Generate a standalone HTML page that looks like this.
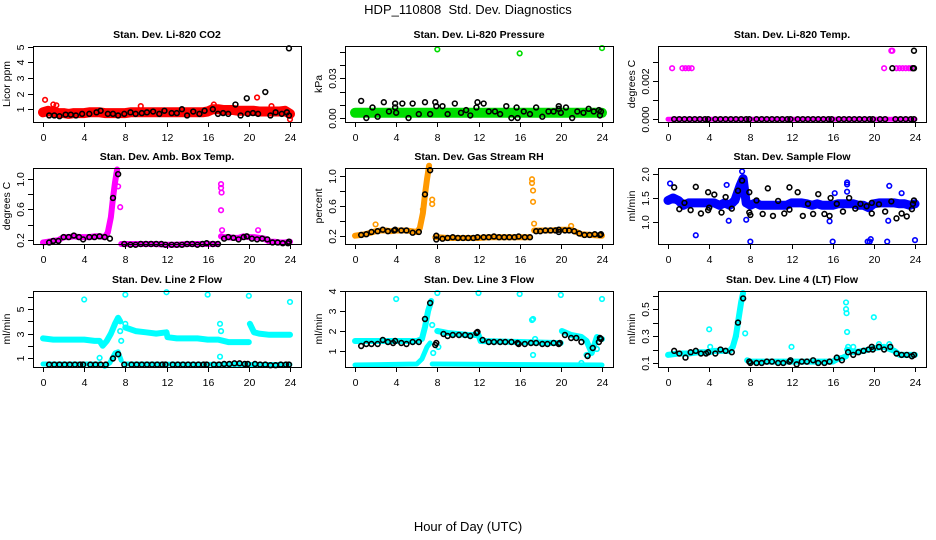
<!DOCTYPE html>
<html><head><meta charset="utf-8">
<style>
html,body{margin:0;padding:0;background:#fff;}
svg{display:block;font-family:"Liberation Sans",Arial,sans-serif;}
</style></head>
<body>
<svg id="chart" width="936" height="540" viewBox="0 0 936 540" xmlns="http://www.w3.org/2000/svg">
<rect x="0" y="0" width="936" height="540" fill="#fff"/>
<text x="468" y="14" font-size="13" text-anchor="middle">HDP_110808&#160; Std. Dev. Diagnostics</text>
<text x="468" y="531" font-size="13" text-anchor="middle">Hour of Day (UTC)</text>
</svg>
<script>
// ---------- Data ----------
var xTicks = [0,4,8,12,16,20,24];

// Panel 1: Li-820 CO2
var co2Dense = [[0,0.8],[0.5,0.9],[1,0.8],[1.5,0.75],[2,0.75],[2.5,0.7],[3,0.75],[3.5,0.75],[4,0.75],[4.5,0.8],[5,0.8],[5.5,0.8],[6,0.75],[6.5,0.75],[7,0.75],[7.5,0.75],[8,0.75],[8.5,0.8],[9,0.8],[9.5,0.8],[10,0.8],[10.5,0.8],[11,0.8],[11.5,0.8],[12,0.8],[12.5,0.8],[13,0.8],[13.5,0.8],[14,0.8],[14.5,0.8],[15,0.8],[15.5,0.8],[16,0.85],[16.5,1.0],[17,1.0],[17.5,0.95],[18,0.95],[18.5,0.95],[19,0.9],[19.5,0.9],[20,0.9],[20.5,0.9],[21,0.85],[21.5,0.85],[22,0.85],[22.5,0.85],[23,0.85],[23.5,0.9],[24,0.7]];
var co2Extra = [[0.2,1.6],[1.0,1.3],[1.3,1.25],[9.5,1.2],[16.6,1.3],[20.8,1.75],[22.2,1.2],[24,0.35]];
var co2Black = [[0.6,0.6],[1.1,0.6],[1.6,0.55],[2.2,0.65],[2.7,0.65],[3.2,0.6],[3.8,0.7],[4.5,0.7],[5.2,0.8],[5.6,0.9],[6.3,0.7],[6.8,0.7],[7.3,0.6],[7.9,0.7],[8.5,0.8],[9.0,0.7],[9.6,0.75],[10.1,0.8],[10.7,0.85],[11.3,0.7],[11.8,0.9],[12.5,0.75],[13.0,0.75],[13.5,1.0],[14.0,0.6],[14.6,0.85],[15.2,0.7],[15.7,0.9],[16.5,1.0],[17.0,0.7],[17.5,0.75],[18.0,0.7],[18.7,1.3],[19.2,0.6],[19.8,1.7],[19.9,0.7],[20.4,0.75],[20.9,0.7],[21.6,2.1],[22.1,0.6],[22.6,0.8],[23.2,0.7],[23.7,0.8],[23.9,4.9],[23.9,0.6]];

// Panel 2: Li-820 Pressure
var presDense = [[0,0.004],[2,0.004],[4,0.004],[6,0.004],[8,0.004],[10,0.004],[12,0.004],[14,0.004],[16,0.004],[18,0.004],[20,0.004],[22,0.004],[24,0.004]];
var presExtra = [[8,0.052],[16,0.049],[24,0.053]];
var presBlack = [[0.6,0.013],[1.1,0],[1.7,0.008],[2.2,0.001],[2.8,0.012],[3.3,0.005],[3.9,0.011],[3.9,0.008],[4.0,0.004],[4.6,0.011],[5.2,0],[5.6,0.011],[6.2,0.003],[6.8,0.012],[7.3,0.003],[7.8,0.012],[7.9,0.009],[8.5,0.009],[9.0,0.003],[9.7,0.011],[10.3,0.004],[10.8,0.006],[11.2,0.002],[11.8,0.008],[11.9,0.012],[12.5,0.011],[13.0,0.005],[13.6,0.005],[14.1,0.003],[14.7,0.009],[15.2,0],[15.7,0.008],[15.8,0],[16.4,0.005],[17.0,0.003],[17.6,0.008],[18.2,0.001],[18.8,0.005],[19.3,0.005],[19.8,0.009],[19.8,0.007],[20.0,0.004],[20.5,0.008],[21.1,0],[21.6,0.005],[22.2,0.004],[22.7,0.007],[23.2,0.005],[23.7,0.006],[23.8,0.002],[23.9,0.005]];

// Panel 3: Li-820 Temp
var tempDense = [[0,0],[24,0]];
var tempExtra = [[0.4,0.00268],[1.4,0.00268],[1.7,0.00268],[2.0,0.00268],[2.3,0.00268],[21.0,0.00268],[21.7,0.0036],[21.8,0.0036],[22.2,0.00268],[22.5,0.00268],[22.8,0.00268],[23.1,0.00268],[23.4,0.00268],[23.6,0.00268]];
var tempBlackHours = [0.6,1.1,1.6,2.1,2.6,3.1,3.6,3.9,4.6,5.1,5.6,6.1,6.6,7.1,7.6,7.9,8.6,9.1,9.6,10.1,10.6,11.1,11.6,11.9,12.6,13.1,13.6,14.1,14.6,15.1,15.6,15.9,16.6,17.1,17.6,18.1,18.6,19.1,19.6,19.9,20.6,21.1,22.1,22.6,23.1,23.6,23.9,21.8,23.8,23.9,23.9];
var tempBlackValues = [0,0,0,0,0,0,0,0,0,0,0,0,0,0,0,0,0,0,0,0,0,0,0,0,0,0,0,0,0,0,0,0,0,0,0,0,0,0,0,0,0,0,0,0,0,0,0,0.00268,0.00268,0.00268,0.0036];

// Panel 4: Amb. Box Temp
var boxDense = [[0,0.17],[0.5,0.18],[1,0.19],[1.5,0.2],[2,0.24],[2.5,0.24],[3,0.25],[3.5,0.24],[4,0.24],[4.5,0.24],[5,0.25],[5.5,0.25],[6,0.24],[6.3,0.3],[6.6,0.5],[6.8,0.75],[7.0,0.95],[7.2,1.12],null,[7.6,0.15],[8,0.15],[9,0.15],[10,0.15],[11,0.15],[12,0.14],[13,0.14],[14,0.15],[15,0.15],[16,0.15],[16.5,0.15],[17,0.15],null,[17.3,0.25],[17.6,0.24],[18,0.24],[18.5,0.23],[19,0.23],[19.5,0.25],[20,0.24],[20.5,0.24],[21,0.23],[21.5,0.22],[22,0.18],[22.5,0.18],[23,0.17],[23.5,0.17],[24,0.18]];
var boxExtra = [[7.5,0.63],[17.3,0.93],[17.3,0.88],[17.35,0.82],[17.3,0.59],[17.4,0.33],[20.9,0.33],[7.3,0.9]];
var boxBlack = [[0.6,0.17],[1.0,0.19],[1.5,0.19],[2.0,0.24],[2.5,0.24],[3.0,0.26],[3.5,0.24],[3.9,0.21],[4.5,0.24],[5.0,0.24],[5.5,0.25],[6.0,0.24],[6.5,0.22],[6.8,0.75],[7.3,1.06],[7.9,0.15],[8.5,0.14],[9.0,0.14],[9.5,0.15],[10.0,0.15],[10.5,0.15],[11.0,0.15],[11.5,0.15],[11.9,0.14],[12.5,0.14],[13.0,0.14],[13.5,0.14],[14.0,0.15],[14.5,0.15],[15.0,0.14],[15.5,0.15],[15.9,0.16],[16.5,0.15],[17.0,0.15],[17.6,0.22],[18.0,0.24],[18.5,0.23],[19.0,0.21],[19.5,0.24],[19.8,0.25],[20.3,0.22],[20.8,0.21],[21.3,0.22],[21.8,0.21],[22.3,0.17],[22.8,0.17],[23.3,0.16],[23.8,0.16],[23.9,0.18]];

// Panel 5: Gas Stream RH
var rhDense = [[0,0.2],[0.5,0.21],[1,0.22],[1.5,0.24],[2,0.26],[2.5,0.27],[3,0.27],[3.5,0.26],[4,0.27],[4.5,0.27],[5,0.27],[5.5,0.26],[6,0.25],[6.3,0.3],[6.6,0.5],[6.8,0.75],[7.0,0.95],[7.2,1.13],null,[7.8,0.18],[8,0.18],[9,0.17],[10,0.17],[11,0.17],[12,0.17],[13,0.18],[14,0.18],[15,0.18],[16,0.18],[17,0.18],null,[17.4,0.27],[18,0.27],[19,0.27],[20,0.28],[21,0.28],[21.5,0.25],[22,0.22],[23,0.21],[24,0.2]];
var rhExtra = [[7.5,0.62],[7.5,0.68],[17.2,0.95],[17.2,0.9],[17.3,0.8],[17.3,0.65],[17.4,0.36],[2,0.35],[21,0.33],[6.6,0.55]];
var rhBlack = [[0.6,0.21],[1.1,0.22],[1.6,0.25],[2.2,0.26],[2.7,0.28],[3.2,0.26],[3.8,0.27],[3.9,0.28],[4.5,0.27],[5.0,0.27],[5.6,0.24],[6.2,0.25],[6.8,0.75],[7.3,1.07],[7.9,0.2],[7.9,0.15],[8.5,0.16],[9.0,0.17],[9.5,0.18],[10.0,0.17],[10.5,0.17],[11.0,0.17],[11.5,0.17],[11.9,0.18],[12.5,0.18],[13.0,0.18],[13.5,0.19],[14.0,0.18],[14.5,0.18],[15.0,0.18],[15.5,0.18],[15.9,0.19],[16.5,0.18],[17.0,0.18],[17.6,0.26],[18.0,0.26],[18.5,0.27],[19.0,0.27],[19.5,0.27],[19.8,0.28],[19.8,0.25],[20.4,0.27],[20.8,0.27],[21.3,0.26],[21.8,0.23],[22.3,0.21],[22.8,0.21],[23.3,0.22],[23.8,0.21],[23.9,0.22]];

// Panel 6: Sample Flow
var sfDense = [[0,1.45],[0.5,1.5],[1,1.45],[1.5,1.35],[2,1.4],[2.5,1.4],[3,1.4],[3.5,1.4],[4,1.4],[4.5,1.4],[5,1.35],[5.5,1.4],[6,1.35],[6.5,1.45],[7,1.75],[7.3,1.9],[7.6,1.4],[8,1.35],[8.5,1.4],[9,1.35],[9.5,1.35],[10,1.35],[10.5,1.35],[11,1.35],[11.5,1.35],[12,1.4],[12.5,1.4],[13,1.4],[13.5,1.38],[14,1.35],[14.5,1.38],[15,1.35],[15.5,1.35],[16,1.35],[16.5,1.38],[17,1.38],[17.5,1.38],[18,1.38],[18.5,1.35],[19,1.35],[19.5,1.3],[20,1.38],[20.5,1.4],[21,1.4],[21.5,1.4],[22,1.4],[22.5,1.38],[23,1.38],[23.5,1.35],[24,1.38]];
var sfExtra = [[0.2,1.8],[2.7,0.73],[5.7,1.77],[5.9,1.03],[7.2,2.05],[7.5,1.55],[7.6,1.05],[8.0,0.6],[15.7,1.02],[16.0,0.6],[16.2,1.6],[17.4,1.82],[17.4,1.78],[17.4,1.63],[19.4,0.6],[19.6,0.6],[19.7,0.65],[21.3,0.6],[21.4,1.03],[21.5,1.75],[22.7,1.6],[24,0.63]];
var sfBlack = [[0.6,1.72],[1.1,1.27],[1.6,1.4],[2.2,1.25],[2.7,1.73],[3.2,1.18],[3.9,1.62],[3.9,1.25],[4.0,1.3],[4.5,1.57],[5.2,1.2],[5.6,1.52],[6.2,1.28],[6.8,1.65],[7.2,1.86],[7.9,1.62],[7.9,1.2],[8.0,1.15],[8.6,1.45],[9.2,1.17],[9.7,1.7],[10.2,1.13],[10.7,1.44],[11.3,1.18],[11.8,1.72],[11.8,1.26],[12.6,1.62],[13.1,1.13],[13.6,1.38],[14.1,1.17],[14.6,1.58],[15.2,1.17],[15.7,1.13],[15.8,1.5],[16.4,1.38],[17.0,1.22],[17.6,1.5],[18.2,1.28],[18.7,1.38],[19.3,1.33],[19.8,1.18],[19.8,1.4],[20.5,1.37],[21.1,1.22],[21.7,1.43],[22.2,1.08],[22.7,1.18],[23.2,1.12],[23.7,1.27],[23.9,1.45],[23.8,1.38]];

// Panel 7: Line 2 Flow
var l2Upper = [[0,2.6],[1,2.5],[2,2.5],[3,2.5],[4,2.5],[5,2.4],[5.5,2.4],[5.8,2.0],[6.2,2.4],[6.6,3.0],[7.0,3.8],[7.3,4.3],[7.5,4.0],null,[8,3.5],[9,3.2],[10,3.1],[11,3.0],[12,3.1],[12.1,2.7],[13,2.6],[14,2.6],[15,2.6],[16,2.5],[17,2.5],[18,2.3],[19,2.3],[20,2.3],null,[20.1,3.8],[20.5,3.1],[21,3.0],[22,2.9],[23,2.9],[24,2.9]];
var l2Lower = [[0,0.5],[5,0.5],[5.5,0.5],null,[6.0,0.3],[6.5,0.6],[7,1.4],[7.3,1.5],[7.6,0.8],null,[8,0.5],[24,0.45]];
var l2Extra = [[4,5.8],[8,6.2],[12,6.4],[16,6.2],[20,6.1],[24,5.6],[8,3.8],[7.5,3.2],[7.6,2.4],[17.2,3.8],[17.3,3.2],[17.2,1.1],[5.5,1.0]];
var l2BlackHours = [0.6,1.1,1.6,2.1,2.6,3.1,3.6,3.9,4.6,5.1,5.6,6.1,6.8,7.3,7.9,8.6,9.1,9.6,10.1,10.6,11.1,11.6,11.9,12.6,13.1,13.6,14.1,14.6,15.1,15.6,15.9,16.6,17.1,17.6,18.1,18.6,19.1,19.6,19.9,20.6,21.1,21.6,22.1,22.6,23.1,23.6,23.9];
var l2BlackValues = [0.45,0.45,0.45,0.45,0.45,0.45,0.45,0.45,0.45,0.45,0.45,0.45,0.95,1.3,0.45,0.45,0.45,0.45,0.45,0.45,0.45,0.45,0.45,0.45,0.45,0.45,0.45,0.45,0.45,0.45,0.45,0.45,0.45,0.5,0.5,0.55,0.55,0.5,0.5,0.5,0.45,0.45,0.4,0.4,0.45,0.45,0.45];

// Panel 8: Line 3 Flow
var l3Upper = [[0,1.5],[3,1.5],[6,1.5],[6.5,1.6],[6.8,2.2],[7.1,3.0],[7.4,3.5],null,[8,2.0],[9,1.9],[11,1.8],[12,1.8],[12.2,1.5],[16,1.45],[19.5,1.4],[20,1.4],null,[20.1,2.0],[21,1.8],[22,1.7],[22.5,1.5],[23,0.9],[23.5,1.7],[24,1.6]];
var l3Lower = [[0,0.3],[6,0.35],[6.5,0.6],[7,1.2],[7.3,1.4],null,[7.5,0.35],[24,0.3]];
var l3Extra = [[4,3.6],[8,3.9],[12,3.9],[16,3.85],[20,3.8],[24,3.6],[7.5,2.3],[7.6,0.9],[8.1,1.2],[17.2,2.55],[17.3,2.6],[17.3,0.8],[17.5,1.6],[22.5,0.8],[23.5,1.1],[22,0.4]];
var l3Black = [[0.6,1.25],[1.1,1.35],[1.6,1.35],[2.2,1.35],[2.7,1.55],[3.2,1.45],[3.7,1.4],[3.9,1.5],[4.5,1.4],[5.0,1.35],[5.6,1.45],[6.2,1.45],[6.8,2.6],[7.3,3.4],[7.8,1.3],[7.9,1.4],[8.6,1.85],[9.0,1.75],[9.5,1.8],[10.1,1.8],[10.7,1.8],[11.2,1.75],[11.8,1.9],[11.9,1.95],[12.4,1.55],[13.0,1.45],[13.5,1.45],[14.1,1.45],[14.6,1.45],[15.2,1.45],[15.8,1.4],[15.9,1.35],[16.5,1.35],[17.1,1.4],[17.6,1.4],[18.2,1.35],[18.7,1.35],[19.3,1.4],[19.8,1.35],[19.9,1.4],[20.4,1.8],[21.0,1.65],[21.5,1.65],[22.0,1.45],[22.6,0.75],[23.1,1.15],[23.7,1.45],[23.8,1.65],[23.9,1.6]];

// Panel 9: Line 4 (LT) Flow
var l4Dense = [[0,0.16],[1,0.17],[2,0.17],[3,0.18],[4,0.18],[4.5,0.19],[5,0.19],[6,0.19],[6.3,0.22],[6.6,0.3],[6.9,0.45],[7.1,0.55],[7.3,0.62],null,[7.7,0.12],[8,0.11],[10,0.11],[12,0.11],[14,0.11],[16,0.11],[16.5,0.13],[17,0.14],[17.3,0.15],null,[17.4,0.2],[18,0.18],[19,0.19],[20,0.21],[21,0.22],[22,0.19],[22.5,0.16],[23,0.16],[24,0.16]];
var l4Extra = [[4,0.35],[4.1,0.22],[6.6,0.3],[7.5,0.32],[12,0.22],[17.3,0.55],[17.3,0.5],[17.35,0.47],[17.4,0.33],[17.5,0.22],[18,0.22],[20,0.44],[20.5,0.24],[21.5,0.24]];
var l4Black = [[0.6,0.19],[1.1,0.17],[1.7,0.14],[2.2,0.18],[2.7,0.19],[3.2,0.17],[3.7,0.17],[3.9,0.18],[4.6,0.17],[5.1,0.2],[5.6,0.19],[6.2,0.18],[6.8,0.4],[7.3,0.58],[7.9,0.11],[8.0,0.1],[8.6,0.1],[9.1,0.1],[9.6,0.11],[10.1,0.11],[10.7,0.1],[11.2,0.1],[11.8,0.11],[11.9,0.12],[12.5,0.09],[13.0,0.11],[13.5,0.11],[14.1,0.12],[14.6,0.1],[15.2,0.1],[15.7,0.11],[16.4,0.14],[16.9,0.12],[17.5,0.18],[18.0,0.16],[18.5,0.18],[19.0,0.19],[19.5,0.2],[19.8,0.22],[19.9,0.2],[20.5,0.22],[21.0,0.2],[21.6,0.22],[22.2,0.17],[22.7,0.16],[23.2,0.16],[23.7,0.15],[23.9,0.16]];

// Tick arrays
var co2Ticks = [1,2,3,4,5], co2Labels = ["1","2","3","4","5"];
var presTicks = [0,0.01,0.02,0.03,0.04,0.05], presLabels = ["0.00","","","0.03","",""];
var tempTicks = [0,0.001,0.002,0.003], tempLabels = ["0.000","","0.002",""];
var boxTicks = [0.2,0.4,0.6,0.8,1.0], boxLabels = ["0.2","","0.6","","1.0"];
var rhTicks = [0.2,0.4,0.6,0.8,1.0], rhLabels = ["0.2","","0.6","","1.0"];
var sfTicks = [1.0,1.5,2.0], sfLabels = ["1.0","1.5","2.0"];
var l2Ticks = [1,2,3,4,5,6], l2Labels = ["1","","3","","5",""];
var l3Ticks = [1,2,3,4], l3Labels = ["1","2","3","4"];
var l4Ticks = [0.1,0.2,0.3,0.4,0.5,0.6], l4Labels = ["0.1","","0.3","","0.5",""];

// ---------- Drawing ----------
var NS = "http://www.w3.org/2000/svg";
var svg = document.getElementById("chart");
function mk(tag, parent) { var e = document.createElementNS(NS, tag); parent.appendChild(e); return e; }

var colLeft = [33, 345, 658];
var rowTop = [46, 168, 291];
var boxW = 268, boxH = 76;

function makePanel(col, row, cfg) {
  var L = colLeft[col], T = rowTop[row], B = T + boxH;
  var g = mk("g", svg);
  
  
  function xs(h) { return L + 10 + h * (247 / 24); }
  function ys(v) { return B - (v - cfg.ymin) / (cfg.ymax - cfg.ymin) * boxH; }

  cfg.dense.forEach(function (ser) {
    var segs = [], cur = [];
    ser.pts.forEach(function (p) {
      if (p === null) { if (cur.length) segs.push(cur); cur = []; }
      else cur.push(xs(p[0]).toFixed(1) + "," + ys(p[1]).toFixed(1));
    });
    if (cur.length) segs.push(cur);
    segs.forEach(function (s) {
      var pl = mk("polyline", g);
      
      
      pl.setAttribute("points", s.length === 1 ? s[0] + " " + s[0] : s.join(" "));
      pl.setAttribute("fill", "none");
      pl.setAttribute("stroke", cfg.color);
      pl.setAttribute("stroke-width", ser.w);
      pl.setAttribute("stroke-linejoin", "round");
      pl.setAttribute("stroke-linecap", "round");
    });
  });
  cfg.extra.forEach(function (p) {
    var c = mk("circle", g);
    
    
    c.setAttribute("cx", xs(p[0])); c.setAttribute("cy", ys(p[1])); c.setAttribute("r", 2.3);
    c.setAttribute("fill", "none"); c.setAttribute("stroke", cfg.color); c.setAttribute("stroke-width", 1.6);
  });
  cfg.black.forEach(function (p) {
    var c = mk("circle", g);
    
    
    c.setAttribute("cx", xs(p[0])); c.setAttribute("cy", ys(p[1])); c.setAttribute("r", 2.4);
    c.setAttribute("fill", "none"); c.setAttribute("stroke", "#000"); c.setAttribute("stroke-width", 1.6);
  });
  var bx = mk("rect", g);
  
  
  bx.setAttribute("x", L + 0.5); bx.setAttribute("y", T + 0.5);
  bx.setAttribute("width", boxW); bx.setAttribute("height", boxH);
  bx.setAttribute("fill", "none"); bx.setAttribute("stroke", "#000"); bx.setAttribute("stroke-width", 1);
  xTicks.forEach(function (t) {
    var x = Math.round(xs(t)) + 0.5;
    var ln = mk("line", g);
    
    
    ln.setAttribute("x1", x); ln.setAttribute("x2", x); ln.setAttribute("y1", B); ln.setAttribute("y2", B + 5);
    ln.setAttribute("stroke", "#000");
    var tx = mk("text", g);
    
    
    tx.setAttribute("x", x); tx.setAttribute("y", B + 19);
    tx.setAttribute("font-size", "10.5"); tx.setAttribute("text-anchor", "middle");
    tx.textContent = t;
  });
  cfg.yticks.forEach(function (t, i) {
    var y = Math.round(ys(t)) + 0.5;
    var ln = mk("line", g);
    
    
    ln.setAttribute("x1", L - 5); ln.setAttribute("x2", L); ln.setAttribute("y1", y); ln.setAttribute("y2", y);
    ln.setAttribute("stroke", "#000");
    if (cfg.ylabels[i]) {
      var tx = mk("text", g);
      
      
      tx.setAttribute("transform", "translate(" + (L - 9) + "," + y + ") rotate(-90)");
      tx.setAttribute("font-size", "10.5"); tx.setAttribute("text-anchor", "middle");
      tx.textContent = cfg.ylabels[i];
    }
  });
  var tt = mk("text", g);
  
  
  tt.setAttribute("x", L + boxW / 2); tt.setAttribute("y", T - 8);
  tt.setAttribute("font-size", "10.5"); tt.setAttribute("font-weight", "bold"); tt.setAttribute("text-anchor", "middle");
  tt.textContent = cfg.title;
  var yl = mk("text", g);
  
  
  yl.setAttribute("transform", "translate(" + (L - 23) + "," + (T + boxH / 2) + ") rotate(-90)");
  yl.setAttribute("font-size", "10.5"); yl.setAttribute("text-anchor", "middle");
  yl.textContent = cfg.ylab;
}

function zip(hs, vs) { return hs.map(function (h, i) { return [h, vs[i]]; }); }

makePanel(0, 0, {name: "co2-panel", title: "Stan. Dev. Li-820 CO2", ylab: "Licor ppm", color: "#ff0000", ymin: 0.18, ymax: 5.05,
  dense: [{pts: co2Dense, w: 10}], extra: co2Extra, black: co2Black, yticks: co2Ticks, ylabels: co2Labels});
makePanel(1, 0, {name: "pressure-panel", title: "Stan. Dev. Li-820 Pressure", ylab: "kPa", color: "#00dd00", ymin: -0.003, ymax: 0.0546,
  dense: [{pts: presDense, w: 10}], extra: presExtra, black: presBlack, yticks: presTicks, ylabels: presLabels});
makePanel(2, 0, {name: "li820-temp-panel", title: "Stan. Dev. Li-820 Temp.", ylab: "degrees C", color: "#ff00ff", ymin: -0.00015, ymax: 0.00385,
  dense: [{pts: tempDense, w: 5}], extra: tempExtra, black: zip(tempBlackHours, tempBlackValues), yticks: tempTicks, ylabels: tempLabels});
makePanel(0, 1, {name: "box-temp-panel", title: "Stan. Dev. Amb. Box Temp.", ylab: "degrees C", color: "#ff00ff", ymin: 0.15, ymax: 1.14,
  dense: [{pts: boxDense, w: 6}], extra: boxExtra, black: boxBlack, yticks: boxTicks, ylabels: boxLabels});
makePanel(1, 1, {name: "rh-panel", title: "Stan. Dev. Gas Stream RH", ylab: "percent", color: "#ff9900", ymin: 0.09, ymax: 1.1,
  dense: [{pts: rhDense, w: 6}], extra: rhExtra, black: rhBlack, yticks: rhTicks, ylabels: rhLabels});
makePanel(2, 1, {name: "sample-flow-panel", title: "Stan. Dev. Sample Flow", ylab: "ml/min", color: "#0000ff", ymin: 0.55, ymax: 2.12,
  dense: [{pts: sfDense, w: 9}], extra: sfExtra, black: sfBlack, yticks: sfTicks, ylabels: sfLabels});
makePanel(0, 2, {name: "line2-panel", title: "Stan. Dev. Line 2 Flow", ylab: "ml/min", color: "#00ffff", ymin: 0.25, ymax: 6.5,
  dense: [{pts: l2Upper, w: 6}, {pts: l2Lower, w: 5}], extra: l2Extra, black: zip(l2BlackHours, l2BlackValues), yticks: l2Ticks, ylabels: l2Labels});
makePanel(1, 2, {name: "line3-panel", title: "Stan. Dev. Line 3 Flow", ylab: "ml/min", color: "#00ffff", ymin: 0.2, ymax: 4.0,
  dense: [{pts: l3Upper, w: 6}, {pts: l3Lower, w: 5}], extra: l3Extra, black: l3Black, yticks: l3Ticks, ylabels: l3Labels});
makePanel(2, 2, {name: "line4-panel", title: "Stan. Dev. Line 4 (LT) Flow", ylab: "ml/min", color: "#00ffff", ymin: 0.07, ymax: 0.635,
  dense: [{pts: l4Dense, w: 6}], extra: l4Extra, black: l4Black, yticks: l4Ticks, ylabels: l4Labels});
</script>
</body></html>
